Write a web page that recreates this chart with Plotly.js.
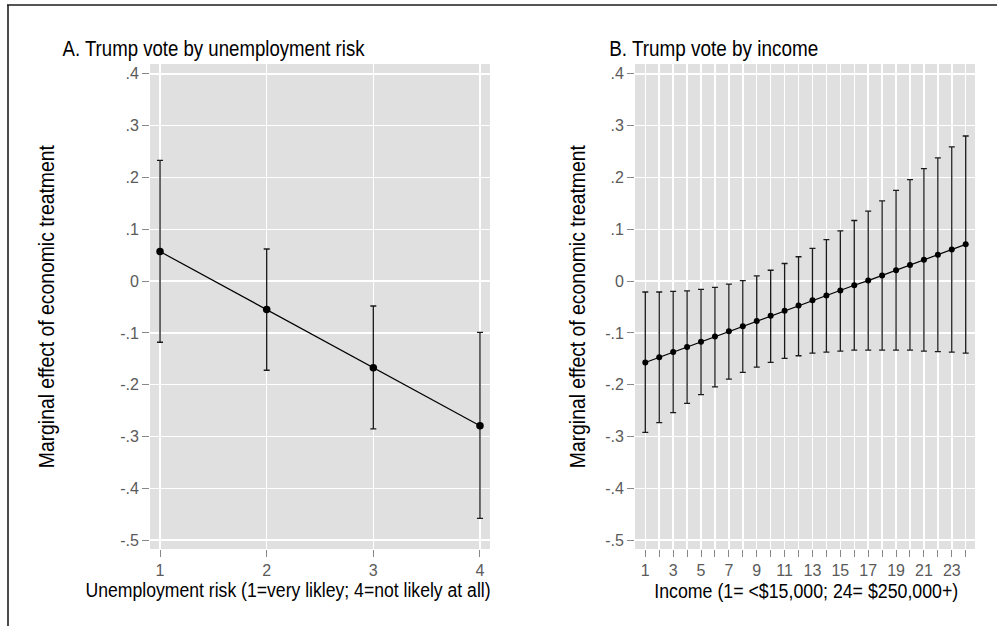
<!DOCTYPE html>
<html>
<head>
<meta charset="utf-8">
<script src="https://cdn.plot.ly/plotly-3.0.1.min.js"></script>
<style>
  html, body { margin: 0; padding: 0; background: #ffffff; }
  #chart { width: 997px; height: 626px; }
</style>
</head>
<body>
<div id="chart"></div>
<script>
// ---------- data ----------
const riskX   = [1, 2, 3, 4];
const riskEst = [0.057, -0.055, -0.167, -0.279];
const riskLo  = [-0.118, -0.172, -0.285, -0.458];
const riskHi  = [0.233, 0.062, -0.048, -0.099];

const incomeX   = [1, 2, 3, 4, 5, 6, 7, 8, 9, 10, 11, 12, 13, 14, 15, 16, 17, 18, 19, 20, 21, 22, 23, 24];
const incomeEst = [-0.157, -0.147, -0.137, -0.127, -0.117, -0.107, -0.097, -0.087, -0.077, -0.067, -0.057, -0.047,
                   -0.037, -0.028, -0.018, -0.008, 0.001, 0.011, 0.021, 0.031, 0.041, 0.051, 0.061, 0.071];
const incomeHi  = [-0.021, -0.021, -0.020, -0.019, -0.016, -0.012, -0.006, 0.001, 0.010, 0.021, 0.034, 0.047,
                   0.063, 0.080, 0.097, 0.117, 0.135, 0.155, 0.175, 0.196, 0.217, 0.238, 0.259, 0.280];
const incomeLo  = [-0.292, -0.273, -0.254, -0.236, -0.219, -0.204, -0.189, -0.176, -0.166, -0.157, -0.149, -0.144,
                   -0.139, -0.137, -0.135, -0.133, -0.133, -0.133, -0.133, -0.133, -0.135, -0.136, -0.137, -0.139];

const yTickVals = [0.4, 0.3, 0.2, 0.1, 0, -0.1, -0.2, -0.3, -0.4, -0.5];
const yTickText = ['.4', '.3', '.2', '.1', '0', '-.1', '-.2', '-.3', '-.4', '-.5'];
const riskTickVals = [1, 2, 3, 4];
const riskTickText = ['1', '2', '3', '4'];
const incomeTickVals = incomeX;
const incomeTickText = ['1', '', '3', '', '5', '', '7', '', '9', '', '11', '', '13', '', '15', '', '17', '', '19', '', '21', '', '23', ''];

const titleA = 'A. Trump vote by unemployment risk';
const titleB = 'B. Trump vote by income';
const xTitleA = 'Unemployment risk (1=very likley; 4=not likely at all)';
const xTitleB = 'Income (1= <$15,000; 24= $250,000+)';
const yTitle = 'Marginal effect of economic treatment';

// ---------- layout helpers ----------
const W = 997, H = 626;
const px = v => v / W;
const py = v => 1 - v / H;
const FONT = '"Liberation Sans", Arial, Helvetica, sans-serif';
const TICKFONT = { family: FONT, size: 16, color: '#5a5a5a' };

function errTrace(x, est, lo, hi, xa, ya, msize) {
  return {
    type: 'scatter', mode: 'lines+markers',
    x: x, y: est, xaxis: xa, yaxis: ya,
    line: { color: '#000000', width: 1.2 },
    marker: { color: '#000000', size: msize },
    error_y: {
      type: 'data', symmetric: false,
      array: hi.map((h, i) => h - est[i]),
      arrayminus: lo.map((l, i) => est[i] - l),
      color: '#1a1a1a', thickness: 1.3, width: 3
    },
    showlegend: false, hoverinfo: 'x+y'
  };
}

const traces = [
  errTrace(riskX, riskEst, riskLo, riskHi, 'x', 'y', 7.5),
  errTrace(incomeX, incomeEst, incomeLo, incomeHi, 'x2', 'y2', 6)
];

const yCommon = {
  range: [-0.517, 0.419], tickmode: 'array', tickvals: yTickVals, ticktext: yTickText,
  ticks: 'outside', ticklen: 7, tickwidth: 1, tickcolor: '#888888',
  tickfont: TICKFONT,
  showgrid: true, gridcolor: '#ffffff', gridwidth: 1.5,
  zeroline: false, showline: false, fixedrange: true,
  domain: [py(549), py(64)]
};
const xCommon = {
  ticks: 'outside', ticklen: 7, tickwidth: 1, tickcolor: '#888888',
  tickfont: TICKFONT, tickmode: 'array',
  showgrid: true, gridcolor: '#ffffff', gridwidth: 1.5,
  zeroline: false, showline: false
};

// text blocks: [text, centre x px, centre y px, font size, condensed length px, angle]
const textBlocks = [
  [titleA, 214, 49, 22, 302, 0],
  [titleB, 713.5, 49, 22, 209, 0],
  [xTitleA, 287.5, 590, 20, 405, 0],
  [xTitleB, 806, 591, 20, 304, 0],
  [yTitle, 46, 306.5, 22, 323, -90],
  [yTitle, 577, 306.5, 22, 323, -90]
];

const zeroLine = { color: '#f0a39c', width: 1.3, dash: '5px,3px' };

const layout = {
  width: W, height: H,
  margin: { l: 0, r: 0, t: 0, b: 0 },
  paper_bgcolor: '#ffffff', plot_bgcolor: '#e0e0e0',
  font: { family: FONT, color: '#000000' },
  xaxis: Object.assign({}, xCommon, {
    domain: [px(150), px(490)], range: [0.906, 4.094], anchor: 'y',
    tickvals: riskTickVals, ticktext: riskTickText
  }),
  xaxis2: Object.assign({}, xCommon, {
    domain: [px(635), px(975)], range: [0.261, 24.667], anchor: 'y2',
    tickvals: incomeTickVals, ticktext: incomeTickText
  }),
  yaxis: Object.assign({}, yCommon, { anchor: 'x' }),
  yaxis2: Object.assign({}, yCommon, { anchor: 'x2' }),
  shapes: [
    { type: 'line', xref: 'x domain', yref: 'y', x0: 0, x1: 1, y0: 0, y1: 0, line: zeroLine, layer: 'below' },
    { type: 'line', xref: 'x2 domain', yref: 'y2', x0: 0, x1: 1, y0: 0, y1: 0, line: zeroLine, layer: 'below' },
    // outer frame (cropped figure border)
    { type: 'line', xref: 'paper', yref: 'paper', x0: px(7), x1: px(997), y0: py(5), y1: py(5),
      line: { color: '#555555', width: 2 } },
    { type: 'line', xref: 'paper', yref: 'paper', x0: px(8), x1: px(8), y0: py(5), y1: py(626),
      line: { color: '#111111', width: 1.5 } }
  ],
  annotations: textBlocks.map(b => ({
    text: b[0], xref: 'paper', yref: 'paper', x: px(b[1]), y: py(b[2]),
    xanchor: 'center', yanchor: 'middle', textangle: b[5], showarrow: false,
    font: { family: FONT, size: b[3], color: '#000000' }
  }))
};

Plotly.newPlot('chart', traces, layout, { displayModeBar: false, staticPlot: true }).then(() => {
  // condense the Helvetica-like titles to their measured length (SVG textLength)
  textBlocks.forEach((b, i) => {
    const t = document.querySelector('.annotation[data-index="' + i + '"] text.annotation-text');
    if (t) {
      t.setAttribute('textLength', b[4]);
      t.setAttribute('lengthAdjust', 'spacingAndGlyphs');
    }
  });
});
</script>
</body>
</html>
